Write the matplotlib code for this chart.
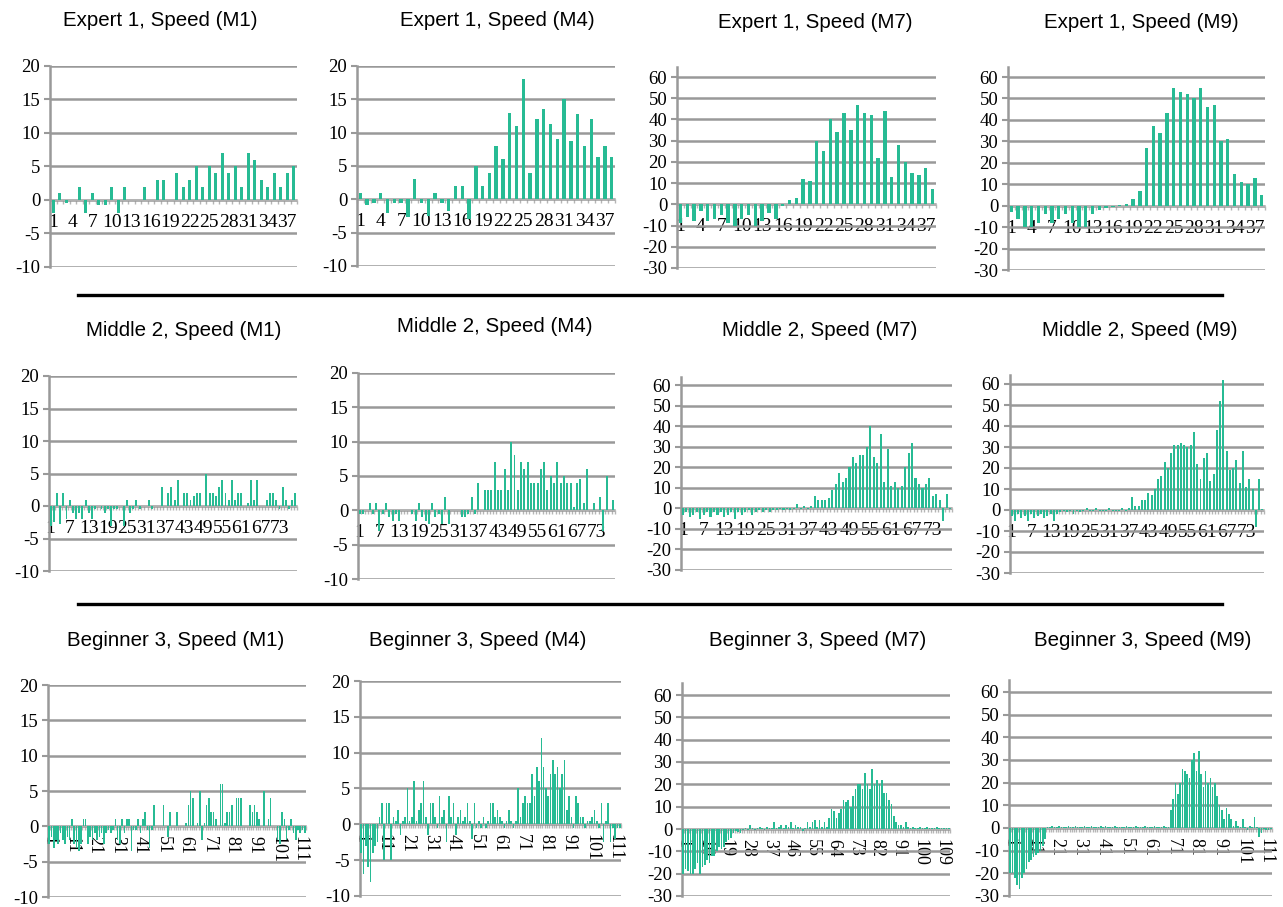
import matplotlib
matplotlib.use("Agg")
import matplotlib.pyplot as plt
from matplotlib.lines import Line2D
import numpy as np

plt.rcParams['axes.unicode_minus'] = False

# ---------------- data ----------------
expert_m1 = [-2, 1, -0.5, 0, 2, -2, 1, -0.8, -0.8, 2, -2, 2, 0, 0, 2, 0, 3, 3, 0, 4,
             2, 3, 5, 2, 5, 4, 7, 4, 5, 2, 7, 6, 3, 2, 4, 2, 4, 5]
expert_m4 = [1, -0.8, -0.5, 1, -2, -0.5, -0.5, -2.7, 3, -0.5, -2.5, 1, -0.5, -1.8, 2, 2, -3, 5, 2, 4,
             8, 6, 13, 11, 18, 4, 12, 13.5, 11.3, 9, 15, 8.8, 12.8, 8, 12, 6.4, 8, 6.4]
expert_m7 = [-9, -6, -8, -3, -8, -7, -5, -9, -10, -7, -5, -10, -8, -4, -7, -1, 2, 3, 12, 11,
             30, 25, 40, 34, 43, 35, 47, 43, 42, 22, 44, 13, 28, 20, 15, 14, 17, 7]
expert_m9 = [-3, -6, -10, -10, -8, -4, -8, -6, -4, -8, -10, -10, -4, -2, -1, -0.5, 0.5, 1, 3, 7,
             27, 37, 34, 43, 55, 53, 52, 50, 55, 46, 47, 30, 31, 15, 11, 10, 13, 5]

middle_m1 = [-3, -2.5, 2, -2.8, 2, -2, 1, -1, -2, -1,
             -2, 1, -1, -2, -0.5, 0, -0.5, -1, -0.5, -3,
             -0.5, -0.5, 0, -3, 1, -1, -0.5, 1, -0.5, 0,
             0, 1, -0.5, 0, 0, 3, 0, 2, 3, 1,
             4, 0, 2, 2, 1, 1.5, 2, 2, 0, 5,
             2, 2, 1.5, 3, 4, 2, 1, 4, 1, 2,
             2, 0, 0.5, 4, 1, 4, 0, 0, 1, 2,
             2, 1, -0.5, 3, 1, -0.5, 1, 2]
middle_m4 = [-0.5, -0.5, 0, 1, -0.5, 1, -3, -0.5, 1, -1,
             -1.5, -0.5, -1.5, 0, 0, 0, -0.5, -1.5, 1, -1,
             -1.5, -2, 1, -1, -0.5, -2, 2, -2, 0, 0,
             0, -1, -1, -0.5, 2, -0.5, 4, 0, 3, 3,
             3, 7, 3, 3, 6, 3, 10, 8, 3, 7,
             6, 7, 4, 4, 4, 6, 7, 3, 5, 4,
             7, 4, 5, 4, 4, 0.5, 4, 4.5, 1, 6,
             0, 1, 0, 2, -3, 5, 0, 1.5]
middle_m7 = [-3, -2, -4, -3, -2, -5, -3, -2, -4, -2,
             -3, -2, -4, -3, -2, -5, -2, -3, -2, -1,
             -3, -2, -1, -2, -1, -2, -1, -1, -0.5, -1,
             -0.5, -1, -0.5, 2, -0.5, 1, -0.5, 1, 6, 4,
             4, 4, 5, 9, 12, 17, 13, 15, 20, 25,
             22, 26, 26, 30, 40, 25, 22, 36, 13, 29,
             11, 13, 10, 11, 20, 27, 32, 15, 12, 10,
             12, 15, 6, 7, 4, -6, 7, -0.5]
middle_m9 = [-3, -5, -2, -4, -3, -5, -2, -4, -3, -2,
             -4, -3, -2, -5, -2, -1, -0.5, -1, -0.5, -2,
             -0.5, -1, -0.5, 1, -0.5, -0.5, 1, -0.5, -0.5, -0.5,
             1, -0.5, -0.5, -0.5, 1, -0.5, 1, 6, 2, 2,
             5, 5, 8, 7, 10, 15, 16, 23, 20, 27,
             31, 31, 32, 31, 30, 31, 37, 22, 15, 25,
             27, 14, 17, 38, 52, 62, 28, 19, 20, 24,
             13, 28, 11, 15, 10, -8, 15, 0.5]

beginner_m1 = [-2.5, -1.5, -3, -2, -2.5, -1, -2, -2.5, -1.5, -2,
               1, -2.5, -3, -3.5, -2.5, 1, 1, -2.5, -1.5, -2,
               -1, -2, -1.5, -1, -2.5, -1, -0.5, -1, -0.5, 1,
               -2, -2.5, 1, -1, 1, 1, -3.5, -0.5, -0.5, 1,
               -1, 1, 2, -0.5, -3, -0.5, 3, 0, 0, 0,
               3, 0, -1.5, 2, 0, 0, 2, 0, 0, 0,
               0.5, 3, 5, 4, 0, 0.5, 5, -2, 0.5, 3,
               4, 2, 2, 1, 0, 6, 6, 0.5, 2, 2,
               3, 0, 4, 4, 4, 0, 0, 0, 3, 2,
               3, 2, 1, 0, 5, 0, 1, 4, 0, 0,
               -2, -2.5, 2, 1, -2, -0.5, 1, -1, -2, -0.5,
               -1, -0.5, -1]
beginner_m4 = [-4, -7, -3, -6, -8, -4, -3, -2.5, 1, 3,
               -5, 3, 3, -5, 1, 0.5, 2, -1.5, 0.5, 1,
               5, 0.5, 1, 6, 0.5, 2, 3, 6, 1, -1.5,
               3, 3, 1, -0.5, 4, 1, 2, -2.5, 4, 1,
               3, -1.5, 1, 2, 0.5, 1, 3, 0.5, -2, 3,
               -0.5, 0.5, -0.5, 1, -0.5, 0.5, 3, 3, 1, 2,
               1, 0.5, -0.5, 0.5, 2, 0.5, -0.5, 0.5, 5, 1,
               3, 4, 3, 3, 7, 4, 8, 6, 12, 8,
               5, 4, 7, 9, 7, 8, 5, 7, 9, 2,
               4, 1, -0.5, 4, 3, 1, 1, -0.5, 0.5, 0.5,
               1, 2, 0.5, -0.5, 3, -2.5, 0.5, 3, -2.5, -0.5,
               -2, -0.5, -0.5]
beginner_m7 = [-20, -18, -19, -20, -20, -18, -15, -20, -17, -16,
               -14, -15, -12, -12, -10, -8, -9, -8, -6, -5,
               -4, -2, -1, -1.5, -2, -0.5, 0.5, -0.5, 2, 0.5,
               -0.5, 0.5, 1, 0.5, -0.5, 1, 0.5, 0.5, 3, 0.5,
               1, 2, 0.5, 2, 1, 3, 0.5, 2, 1, 1,
               -1, 0.5, 3, 1, 3, 4, 1, 4, 1, 3,
               1, 5, 9, 8, 5, 7, 9, 13, 12, 13,
               10, 15, 18, 20, 20, 18, 25, 20, 18, 27,
               20, 22, 20, 22, 16, 16, 13, 11, 6, 3,
               2, 2, 1, 3, 1, 0.5, 1, 0.5, 0.5, 1,
               0.5, 0.5, 1, 0.5, 0.5, 0.5, 1, 0.5, 0.5, 0.5,
               0.5, 0.5]
beginner_m9 = [-20, -20, -22, -25, -27, -22, -20, -18, -15, -14,
               -13, -12, -11, -10, -8, -5, 0.5, 0.5, 1, 0.5,
               0.5, 1, 0.5, 0.5, 0.5, 1, 0.5, 0.5, 1, 0.5,
               0.5, 0.5, 1, 0.5, 0.5, 1, 0.5, 0.5, 0.5, 1,
               0.5, 1, 0.5, 0.5, 0.5, 1, 0.5, 0.5, 0.5, 0.5,
               1, 0.5, 0.5, 0.5, 1, 0.5, 0.5, 0.5, 1, 0.5,
               0.5, 0.5, 1, 0.5, 0.5, 0.5, 1, 0.5, 0.5, 8,
               13, 20, 15, 20, 26, 25, 24, 22, 30, 33,
               25, 34, 24, 18, 25, 20, 22, 18, 20, 14,
               10, 8, 4, 9, 6, 4, 1, 3, 1, 0.5,
               4, 0.5, -1, 1, 0.5, 5, 0.5, -4, -2, -0.5,
               -1, -1, -0.5]

ticks_expert = [1, 4, 7, 10, 13, 16, 19, 22, 25, 28, 31, 34, 37]
ticks_middle = [1, 7, 13, 19, 25, 31, 37, 43, 49, 55, 61, 67, 73]
ticks_beginner = [1, 11, 21, 31, 41, 51, 61, 71, 81, 91, 101, 111]
ticks_beginner_m7 = [1, 10, 19, 28, 37, 46, 55, 64, 73, 82, 91, 100, 109]

titles = ["Expert 1, Speed (M1)", "Expert 1, Speed (M4)", "Expert 1, Speed (M7)", "Expert 1, Speed (M9)",
          "Middle 2, Speed (M1)", "Middle 2, Speed (M4)", "Middle 2, Speed (M7)", "Middle 2, Speed (M9)",
          "Beginner 3, Speed (M1)", "Beginner 3, Speed (M4)", "Beginner 3, Speed (M7)", "Beginner 3, Speed (M9)"]
series = [expert_m1, expert_m4, expert_m7, expert_m9,
          middle_m1, middle_m4, middle_m7, middle_m9,
          beginner_m1, beginner_m4, beginner_m7, beginner_m9]
tick_sets = [ticks_expert] * 4 + [ticks_middle] * 4 + \
            [ticks_beginner, ticks_beginner, ticks_beginner_m7, ticks_beginner]

# ---------------- layout (pixels) ----------------
W, H = 1283, 907
# left, right, y_of_ymax_grid, y_of_ymin, axis_top, ymin, ymax, step, title_x, title_y
layout = [
    (50, 297, 66, 267, 66, -10, 20, 5, 160, 20),
    (357, 615, 66, 266, 66, -10, 20, 5, 497, 20),
    (677, 936, 77, 268, 67, -30, 60, 10, 815, 22),
    (1008, 1265, 77, 270, 67, -30, 60, 10, 1141, 22),
    (49, 297, 376, 571, 376, -10, 20, 5, 184, 330),
    (358, 615, 373, 579, 373, -10, 20, 5, 495, 326),
    (681, 952, 385, 570, 377, -30, 60, 10, 820, 330),
    (1010, 1264, 384, 573, 375, -30, 60, 10, 1140, 330),
    (48, 306, 685, 897, 685, -10, 20, 5, 176, 640),
    (360, 621, 681, 896, 681, -10, 20, 5, 478, 640),
    (682, 950, 695, 896, 683, -30, 60, 10, 818, 640),
    (1009, 1272, 692, 896, 680, -30, 60, 10, 1143, 640),
]

BAR = '#27bb94'
GRID = '#999999'
SERIF = ['Liberation Serif', 'DejaVu Serif']

fig = plt.figure(figsize=(W / 100, H / 100), dpi=100)

for i, (title, vals, ticks, lay) in enumerate(zip(titles, series, tick_sets, layout)):
    l, r, ytop, ybot, atop, ymin, ymax, step, tx, ty = lay
    ppu = (ybot - ytop) / (ymax - ymin)
    ylim_top = ymax + (ytop - atop) / ppu
    ax = fig.add_axes([l / W, 1 - ybot / H, (r - l) / W, (ybot - atop) / H])
    n = len(vals)
    x = np.arange(1, n + 1)
    width = 0.5 if n < 50 else (0.6 if n < 100 else 0.7)
    ax.bar(x, vals, width=width, color=BAR, edgecolor='none', zorder=3)
    ax.set_xlim(0.5, n + 0.5)
    ax.set_ylim(ymin, ylim_top)
    yt = np.arange(ymin, ymax + 1, step)
    ax.set_yticks(yt)
    ax.set_yticklabels([str(int(v)) for v in yt], fontfamily=SERIF, fontsize=13.5)
    ax.yaxis.grid(True, color=GRID, lw=1.8, zorder=0)
    ax.set_axisbelow(True)
    for s in ('top', 'right'):
        ax.spines[s].set_visible(False)
    ax.spines['left'].set_color(GRID)
    ax.spines['left'].set_linewidth(1.8)
    ax.spines['bottom'].set_position(('data', 0))
    ax.spines['bottom'].set_color('#b5b5b5')
    ax.spines['bottom'].set_linewidth(1.2)
    ax.spines['bottom'].set_zorder(2)
    ax.tick_params(axis='y', direction='out', length=4, width=1.5, color=GRID, pad=3)
    ax.set_xticks(ticks)
    ax.set_xticks(np.arange(0.5, n + 1, 1), minor=True)
    ax.tick_params(axis='x', which='minor', direction='out', length=3, width=1, color='#b5b5b5')
    if i >= 8:
        ax.set_xticklabels([str(t) for t in ticks], fontfamily=SERIF, fontsize=13,
                           rotation=-90)
        ax.tick_params(axis='x', which='major', length=0, pad=7)
    else:
        ax.set_xticklabels([str(t) for t in ticks], fontfamily=SERIF, fontsize=14)
        ax.tick_params(axis='x', which='major', length=0, pad=10)
    ax.patch.set_alpha(0)
    fig.text(tx / W, 1 - ty / H, title, ha='center', va='center',
             fontfamily='Liberation Sans', fontsize=14.8)

for yy in (295, 604):
    fig.add_artist(Line2D([78 / W, 1222 / W], [1 - yy / H, 1 - yy / H], color='black', lw=2.4))

fig.savefig('out.png', dpi=100)
